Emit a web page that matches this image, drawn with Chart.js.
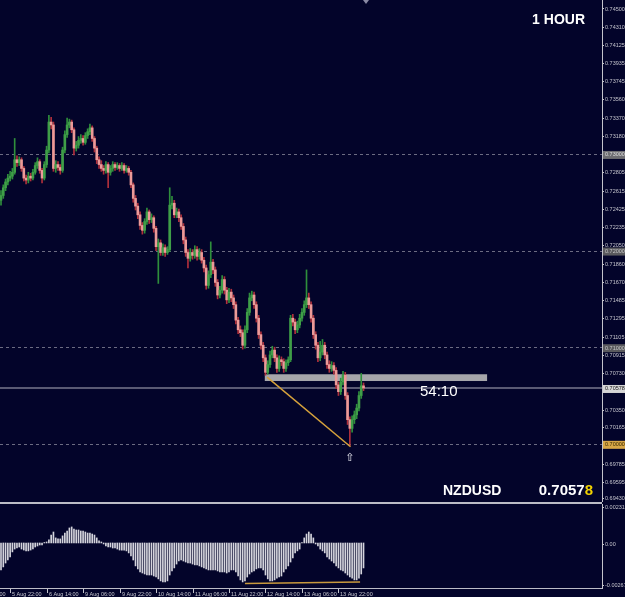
<!DOCTYPE html>
<html>
<head>
<meta charset="utf-8">
<title>NZDUSD 1 HOUR</title>
<script src="https://cdn.jsdelivr.net/npm/chart.js@4.4.1/dist/chart.umd.min.js"></script>
<style>
    html, body { margin: 0; padding: 0; background: #03042a; }
    canvas { display: block; }
</style>
</head>
<body>
<canvas id="priceChart" width="625" height="502"></canvas>
<canvas id="oscChart" width="625" height="95"></canvas>
<script>
// H1 bars, oldest first (bar 4 = 5 Aug 22:00)
var opens = [
    0.7252,0.7257,0.7265,0.7271,0.7275,0.7277,0.7281,0.7294,0.7291,0.7294,
    0.7285,0.7275,0.7273,0.7277,0.7275,0.7281,0.7288,0.7292,0.7283,0.7275,
    0.7289,0.7304,0.7333,0.7330,0.7285,0.7289,0.7286,0.7283,0.7304,0.7320,
    0.7330,0.7333,0.7325,0.7306,0.7309,0.7314,0.7316,0.7312,0.7319,0.7323,
    0.7327,0.7316,0.7306,0.7294,0.7289,0.7285,0.7283,0.7289,0.7281,0.7285,
    0.7289,0.7286,0.7288,0.7285,0.7288,0.7283,0.7285,0.7281,0.7268,0.7254,
    0.7246,0.7237,0.7226,0.7221,0.7230,0.7240,0.7232,0.7234,0.7223,0.7204,
    0.7208,0.7198,0.7203,0.7198,0.7201,0.7247,0.7249,0.7237,0.7240,0.7234,
    0.7225,0.7211,0.7198,0.7192,0.7198,0.7195,0.7201,0.7194,0.7198,0.7190,
    0.7182,0.7164,0.7175,0.7188,0.7180,0.7167,0.7154,0.7159,0.7170,0.7159,
    0.7149,0.7157,0.7151,0.7144,0.7128,0.7118,0.7115,0.7102,0.7118,0.7136,
    0.7151,0.7154,0.7144,0.7130,0.7113,0.7102,0.7089,0.7074,0.7082,0.7092,
    0.7097,0.7089,0.7078,0.7087,0.7085,0.7078,0.7084,0.7087,0.7130,0.7126,
    0.7118,0.7123,0.7130,0.7136,0.7144,0.7151,0.7144,0.7130,0.7113,0.7102,
    0.7089,0.7095,0.7102,0.7092,0.7082,0.7078,0.7081,0.7076,0.7061,0.7054,
    0.7064,0.7071,0.7050,0.7025,0.7016,0.7025,0.7030,0.7037,0.7050,0.7060
];
var highs = [
    0.7262,0.7268,0.7274,0.7279,0.7282,0.7285,0.7316,0.7298,0.7297,0.7296,
    0.7287,0.7278,0.7281,0.7280,0.7284,0.7291,0.7296,0.7294,0.7285,0.7292,
    0.7308,0.7340,0.7338,0.7333,0.7293,0.7292,0.7289,0.7307,0.7324,0.7337,
    0.7336,0.7335,0.7327,0.7313,0.7318,0.7320,0.7319,0.7322,0.7326,0.7331,
    0.7329,0.7318,0.7308,0.7297,0.7293,0.7288,0.7292,0.7291,0.7288,0.7292,
    0.7291,0.7291,0.7290,0.7291,0.7290,0.7288,0.7287,0.7283,0.7270,0.7257,
    0.7249,0.7240,0.7229,0.7233,0.7244,0.7242,0.7238,0.7236,0.7225,0.7212,
    0.7211,0.7207,0.7206,0.7204,0.7265,0.7256,0.7252,0.7244,0.7243,0.7237,
    0.7228,0.7214,0.7201,0.7202,0.7201,0.7205,0.7204,0.7202,0.7201,0.7193,
    0.7185,0.7179,0.7209,0.7191,0.7183,0.7170,0.7163,0.7174,0.7173,0.7162,
    0.7161,0.7160,0.7154,0.7147,0.7131,0.7122,0.7118,0.7122,0.7140,0.7156,
    0.7158,0.7157,0.7147,0.7133,0.7116,0.7105,0.7092,0.7086,0.7096,0.7101,
    0.7100,0.7092,0.7091,0.7090,0.7088,0.7087,0.7090,0.7133,0.7134,0.7129,
    0.7127,0.7134,0.7140,0.7148,0.7180,0.7156,0.7147,0.7133,0.7116,0.7105,
    0.7106,0.7108,0.7105,0.7095,0.7086,0.7085,0.7084,0.7079,0.7064,0.7068,
    0.7075,0.7074,0.7053,0.7028,0.7029,0.7034,0.7041,0.7054,0.7073,0.7063
];
var lows = [
    0.7247,0.7254,0.7262,0.7268,0.7272,0.7274,0.7279,0.7287,0.7288,0.7282,
    0.7272,0.7269,0.7270,0.7272,0.7273,0.7279,0.7285,0.7280,0.7270,0.7273,
    0.7286,0.7301,0.7326,0.7282,0.7281,0.7283,0.7279,0.7281,0.7301,0.7317,
    0.7327,0.7322,0.7299,0.7303,0.7306,0.7311,0.7309,0.7310,0.7316,0.7320,
    0.7313,0.7302,0.7290,0.7285,0.7282,0.7279,0.7280,0.7265,0.7278,0.7282,
    0.7283,0.7284,0.7282,0.7283,0.7280,0.7281,0.7278,0.7265,0.7250,0.7242,
    0.7233,0.7222,0.7217,0.7218,0.7227,0.7228,0.7229,0.7219,0.7200,0.7166,
    0.7195,0.7195,0.7194,0.7196,0.7199,0.7243,0.7234,0.7234,0.7230,0.7222,
    0.7207,0.7194,0.7182,0.7189,0.7191,0.7192,0.7190,0.7191,0.7187,0.7178,
    0.7160,0.7161,0.7172,0.7176,0.7163,0.7150,0.7151,0.7156,0.7155,0.7145,
    0.7146,0.7147,0.7140,0.7124,0.7114,0.7111,0.7098,0.7099,0.7115,0.7133,
    0.7148,0.7140,0.7126,0.7109,0.7098,0.7085,0.7071,0.7072,0.7079,0.7089,
    0.7085,0.7074,0.7075,0.7081,0.7074,0.7075,0.7081,0.7085,0.7122,0.7114,
    0.7115,0.7120,0.7127,0.7133,0.7141,0.7140,0.7126,0.7109,0.7098,0.7085,
    0.7086,0.7092,0.7088,0.7078,0.7074,0.7075,0.7072,0.7057,0.7050,0.7051,
    0.7061,0.7046,0.7020,0.6998,0.7012,0.7021,0.7026,0.7034,0.7047,0.7055
];
var closes = [
    0.7257,0.7265,0.7271,0.7275,0.7277,0.7281,0.7294,0.7291,0.7294,0.7285,
    0.7275,0.7273,0.7277,0.7275,0.7281,0.7288,0.7292,0.7283,0.7275,0.7289,
    0.7304,0.7333,0.7330,0.7285,0.7289,0.7286,0.7283,0.7304,0.7320,0.7330,
    0.7333,0.7325,0.7306,0.7309,0.7314,0.7316,0.7312,0.7319,0.7323,0.7327,
    0.7316,0.7306,0.7294,0.7289,0.7285,0.7283,0.7289,0.7281,0.7285,0.7289,
    0.7286,0.7288,0.7285,0.7288,0.7283,0.7285,0.7281,0.7268,0.7254,0.7246,
    0.7237,0.7226,0.7221,0.7230,0.7240,0.7232,0.7234,0.7223,0.7204,0.7208,
    0.7198,0.7203,0.7198,0.7201,0.7247,0.7249,0.7237,0.7240,0.7234,0.7225,
    0.7211,0.7198,0.7192,0.7198,0.7195,0.7201,0.7194,0.7198,0.7190,0.7182,
    0.7164,0.7175,0.7188,0.7180,0.7167,0.7154,0.7159,0.7170,0.7159,0.7149,
    0.7157,0.7151,0.7144,0.7128,0.7118,0.7115,0.7102,0.7118,0.7136,0.7151,
    0.7154,0.7144,0.7130,0.7113,0.7102,0.7089,0.7074,0.7082,0.7092,0.7097,
    0.7089,0.7078,0.7087,0.7085,0.7078,0.7084,0.7087,0.7130,0.7126,0.7118,
    0.7123,0.7130,0.7136,0.7144,0.7151,0.7144,0.7130,0.7113,0.7102,0.7089,
    0.7095,0.7102,0.7092,0.7082,0.7078,0.7081,0.7076,0.7061,0.7054,0.7064,
    0.7071,0.7050,0.7025,0.7016,0.7025,0.7030,0.7037,0.7050,0.7060,0.70578
];
// oscillator histogram (lower window)
var osc = [
    -0.00160,-0.00142,-0.00119,-0.00101,-0.00083,-0.00053,-0.00036,-0.00030,-0.00024,-0.00036,
    -0.00042,-0.00047,-0.00047,-0.00042,-0.00036,-0.00024,-0.00018,-0.00012,-0.00012,0.00003,
    0.00006,0.00018,0.00047,0.00065,0.00030,0.00024,0.00024,0.00042,0.00059,0.00071,
    0.00089,0.00095,0.00083,0.00077,0.00077,0.00071,0.00071,0.00065,0.00059,0.00059,
    0.00053,0.00047,0.00030,0.00012,0.00006,-0.00006,-0.00018,-0.00024,-0.00024,-0.00030,
    -0.00030,-0.00036,-0.00042,-0.00042,-0.00042,-0.00047,-0.00059,-0.00077,-0.00101,-0.00136,
    -0.00154,-0.00172,-0.00178,-0.00184,-0.00190,-0.00190,-0.00190,-0.00196,-0.00202,-0.00213,
    -0.00225,-0.00231,-0.00231,-0.00225,-0.00190,-0.00166,-0.00148,-0.00125,-0.00107,-0.00101,
    -0.00107,-0.00113,-0.00119,-0.00119,-0.00125,-0.00130,-0.00130,-0.00136,-0.00142,-0.00148,
    -0.00154,-0.00160,-0.00160,-0.00160,-0.00160,-0.00166,-0.00172,-0.00172,-0.00172,-0.00178,
    -0.00172,-0.00160,-0.00160,-0.00172,-0.00196,-0.00219,-0.00231,-0.00225,-0.00202,-0.00184,
    -0.00172,-0.00166,-0.00154,-0.00148,-0.00148,-0.00160,-0.00190,-0.00213,-0.00225,-0.00225,
    -0.00219,-0.00208,-0.00202,-0.00196,-0.00172,-0.00154,-0.00136,-0.00113,-0.00089,-0.00059,
    -0.00047,-0.00036,0.00003,0.00030,0.00053,0.00065,0.00053,0.00030,-0.00006,-0.00018,
    -0.00036,-0.00047,-0.00059,-0.00083,-0.00095,-0.00107,-0.00119,-0.00136,-0.00148,-0.00160,
    -0.00166,-0.00178,-0.00190,-0.00202,-0.00208,-0.00219,-0.00219,-0.00208,-0.00184,-0.00148
];

var timeLabels = ['5 Aug 06:00', '5 Aug 22:00', '6 Aug 14:00', '9 Aug 06:00', '9 Aug 22:00', '10 Aug 14:00',
    '11 Aug 06:00', '11 Aug 22:00', '12 Aug 14:00', '13 Aug 06:00', '13 Aug 22:00'];
var timeBars = [-12, 4, 20, 36, 52, 68, 84, 100, 116, 132, 148];

var priceTicks = [0.74500, 0.74310, 0.74125, 0.73935, 0.73745, 0.73560, 0.73370, 0.73180, 0.72805,
    0.72615, 0.72425, 0.72235, 0.72050, 0.71860, 0.71670, 0.71485, 0.71295, 0.71105, 0.70915,
    0.70730, 0.70350, 0.70165, 0.69785, 0.69595, 0.69430];
var roundLevels = [0.73, 0.72, 0.71, 0.70];
var lastPrice = 0.70578;
var oscTicks = [0.00231, 0, -0.00267];
var oscTickLabels = ['0.00231', '0.00', '-0.00267'];

// drawn objects: support zone, trend line and oscillator divergence line
var zoneBars = [115.7, 213.2];
var zonePrices = [0.7065, 0.7072];
var trendBars = [116.7, 153.3];
var trendPrices = [0.7069, 0.6997];
var divBars = [107, 157.5];
var divValues = [-0.00240, -0.00232];

var BG = '#03042a';
var AXIS = '#c4c4cc';
var FONT = '"Liberation Sans", Arial, sans-serif';

var bars = closes.map(function (c, i) { return i; });
var isBull = closes.map(function (c, i) { return c >= opens[i]; });

var xAxis = { type: 'linear', display: false, offset: false, bounds: 'data', min: -0.44, max: 263.6 };

function fixAxis(s) {
    s.width = 23;
    s.paddingTop = 0;
    s.paddingBottom = 0;
}

var priceDecor = {
    id: 'priceDecor',
    beforeDraw: function (chart) {
        var ctx = chart.ctx;
        ctx.save();
        ctx.fillStyle = BG;
        ctx.fillRect(0, 0, chart.width, chart.height);
        ctx.restore();
    },
    beforeDatasetsDraw: function (chart) {
        var ctx = chart.ctx, a = chart.chartArea;
        var xs = chart.scales.x, ys = chart.scales.y;
        ctx.save();
        // round number levels
        ctx.strokeStyle = '#6c6c82';
        ctx.lineWidth = 1;
        ctx.setLineDash([3, 3]);
        roundLevels.forEach(function (p) {
            var y = Math.round(ys.getPixelForValue(p)) + 0.5;
            ctx.beginPath();
            ctx.moveTo(a.left, y);
            ctx.lineTo(a.right, y);
            ctx.stroke();
        });
        ctx.setLineDash([]);
        // bid line
        ctx.strokeStyle = '#5a5a74';
        ctx.lineWidth = 2;
        var yb = Math.round(ys.getPixelForValue(lastPrice));
        ctx.beginPath();
        ctx.moveTo(a.left, yb);
        ctx.lineTo(a.right, yb);
        ctx.stroke();
        // zone
        var x0 = xs.getPixelForValue(zoneBars[0]), x1 = xs.getPixelForValue(zoneBars[1]);
        var y0 = ys.getPixelForValue(zonePrices[1]), y1 = ys.getPixelForValue(zonePrices[0]);
        ctx.fillStyle = '#a6a6aa';
        ctx.fillRect(x0, y0, x1 - x0, y1 - y0);
        ctx.restore();
    },
    afterDraw: function (chart) {
        var ctx = chart.ctx, a = chart.chartArea;
        var xs = chart.scales.x, ys = chart.scales.y;
        ctx.save();
        // price boxes on the axis
        var boxes = [
            { p: 0.73, t: '0.73000', bg: '#6e6e72', fg: '#dcdcdc' },
            { p: 0.72, t: '0.72000', bg: '#5a5a5e', fg: '#c8c8c8' },
            { p: 0.71, t: '0.71000', bg: '#5a5a5e', fg: '#c8c8c8' },
            { p: lastPrice, t: lastPrice.toFixed(5), bg: '#d6d6d6', fg: '#202020' },
            { p: 0.70, t: '0.70000', bg: '#d8a646', fg: '#3a2a00' }
        ];
        ctx.font = '5.5px ' + FONT;
        ctx.textBaseline = 'middle';
        ctx.textAlign = 'left';
        boxes.forEach(function (b) {
            var y = ys.getPixelForValue(b.p) + 1;
            ctx.fillStyle = b.bg;
            ctx.fillRect(a.right + 1, y - 4, 22, 8);
            ctx.fillStyle = b.fg;
            ctx.fillText(b.t, a.right + 3, y);
        });

        // chart shift marker
        var xm = xs.getPixelForValue(closes.length + 0.1);
        ctx.fillStyle = '#8a8aa4';
        ctx.beginPath();
        ctx.moveTo(xm - 3, 0);
        ctx.lineTo(xm + 3, 0);
        ctx.lineTo(xm, 4);
        ctx.closePath();
        ctx.fill();

        // arrow under the low
        var lowBar = 153;
        ctx.fillStyle = '#e6e6ee';
        ctx.font = '11px "DejaVu Sans"';
        ctx.textAlign = 'center';
        ctx.fillText('\u21E7', xs.getPixelForValue(lowBar), ys.getPixelForValue(lows[lowBar]) + 12);

        // bar timer
        ctx.fillStyle = '#ffffff';
        ctx.textAlign = 'left';
        ctx.font = '15px ' + FONT;
        ctx.fillText('54:10', 420, 392);

        // titles
        ctx.font = 'bold 14px ' + FONT;
        ctx.textAlign = 'right';
        ctx.fillText('1 HOUR', 585, 20);
        ctx.textAlign = 'left';
        ctx.fillText('NZDUSD', 443, 491);

        ctx.font = 'bold 15px ' + FONT;
        var txt = lastPrice.toFixed(5);
        var head = txt.slice(0, -1), tail = txt.slice(-1);
        var w = ctx.measureText(txt).width;
        var xp = 593 - w;
        ctx.fillText(head, xp, 491);
        ctx.fillStyle = '#f2d200';
        ctx.fillText(tail, xp + ctx.measureText(head).width, 491);
        ctx.restore();
    }
};

var priceChart = new Chart(document.getElementById('priceChart'), {
    type: 'bar',
    data: {
        datasets: [
            {
                type: 'line',
                data: trendBars.map(function (b, i) { return { x: b, y: trendPrices[i] }; }),
                borderColor: '#d6a23c',
                borderWidth: 1.5,
                pointRadius: 0,
                tension: 0,
                fill: false,
                order: 0
            },
            {
                data: bars.map(function (i) { return { x: i, y: [lows[i], highs[i]] }; }),
                backgroundColor: bars.map(function (i) { return isBull[i] ? '#2f8f3c' : '#b0303c'; }),
                barThickness: 1,
                grouped: false,
                order: 2
            },
            {
                data: bars.map(function (i) { return { x: i, y: [opens[i], closes[i]] }; }),
                backgroundColor: bars.map(function (i) { return isBull[i] ? '#3f9e48' : '#ec9a98'; }),
                barThickness: 2,
                minBarLength: 1,
                grouped: false,
                order: 1
            }
        ]
    },
    options: {
        responsive: false,
        animation: false,
        events: [],
        layout: { padding: 0 },
        plugins: { legend: { display: false }, tooltip: { enabled: false } },
        scales: {
            x: xAxis,
            y: {
                position: 'right',
                bounds: 'data',
                min: 0.69398,
                max: 0.74593,
                afterBuildTicks: function (s) {
                    s.ticks = priceTicks.map(function (v) { return { value: v }; });
                },
                afterFit: fixAxis,
                ticks: {
                    autoSkip: false,
                    padding: 1,
                    color: AXIS,
                    font: { family: FONT, size: 5.5 },
                    callback: function (v) { return v.toFixed(5); }
                },
                grid: { drawOnChartArea: false, drawTicks: true, tickLength: 2, color: AXIS },
                border: { display: true, color: AXIS, width: 1 }
            }
        }
    },
    plugins: [priceDecor]
});

var oscDecor = {
    id: 'oscDecor',
    beforeDraw: function (chart) {
        var ctx = chart.ctx, a = chart.chartArea;
        var xs = chart.scales.x;
        ctx.save();
        ctx.fillStyle = BG;
        ctx.fillRect(0, 0, chart.width, chart.height);
        // window separator and bottom frame
        ctx.fillStyle = '#bcbcc6';
        ctx.fillRect(0, 0, a.right, 2);
        ctx.fillRect(0, a.bottom, a.right + 1, 1);
        // time axis
        ctx.strokeStyle = AXIS;
        ctx.lineWidth = 1;
        ctx.fillStyle = AXIS;
        ctx.font = '5.5px ' + FONT;
        ctx.textAlign = 'left';
        ctx.textBaseline = 'middle';
        timeBars.forEach(function (b, i) {
            var x = Math.round(xs.getPixelForValue(b)) + 0.5;
            ctx.beginPath();
            ctx.moveTo(x, a.bottom + 1);
            ctx.lineTo(x, a.bottom + 5);
            ctx.stroke();
            ctx.fillText(timeLabels[i], x + 1.5, a.bottom + 6);
        });
        ctx.restore();
    },
    afterDraw: function (chart) {
        var ctx = chart.ctx, a = chart.chartArea;
        var ys = chart.scales.y;
        var shift = [3, 1, -3];
        ctx.save();
        ctx.fillStyle = AXIS;
        ctx.strokeStyle = AXIS;
        ctx.font = '5.5px ' + FONT;
        ctx.textBaseline = 'middle';
        ctx.textAlign = 'left';
        oscTicks.forEach(function (v, i) {
            var y = Math.round(ys.getPixelForValue(v) + shift[i]) + 0.5;
            ctx.beginPath();
            ctx.moveTo(a.right, y);
            ctx.lineTo(a.right + 2, y);
            ctx.stroke();
            ctx.fillText(oscTickLabels[i], a.right + 3, y);
        });
        ctx.restore();
    }
};

var oscChart = new Chart(document.getElementById('oscChart'), {
    type: 'bar',
    data: {
        datasets: [
            {
                type: 'line',
                data: divBars.map(function (b, i) { return { x: b, y: divValues[i] }; }),
                borderColor: '#c99a3e',
                borderWidth: 1.5,
                pointRadius: 0,
                tension: 0,
                fill: false,
                order: 0
            },
            {
                data: bars.map(function (i) { return { x: i, y: osc[i] }; }),
                backgroundColor: '#d4d4dc',
                barThickness: 1,
                grouped: false,
                order: 1
            }
        ]
    },
    options: {
        responsive: false,
        animation: false,
        events: [],
        layout: { padding: { top: 2, bottom: 9, left: 0, right: 0 } },
        plugins: { legend: { display: false }, tooltip: { enabled: false } },
        scales: {
            x: xAxis,
            y: {
                position: 'right',
                bounds: 'data',
                min: -0.00267,
                max: 0.00231,
                afterFit: fixAxis,
                ticks: { display: false },
                grid: { drawOnChartArea: false, drawTicks: false },
                border: { display: true, color: AXIS, width: 1 }
            }
        }
    },
    plugins: [oscDecor]
});
</script>
</body>
</html>
